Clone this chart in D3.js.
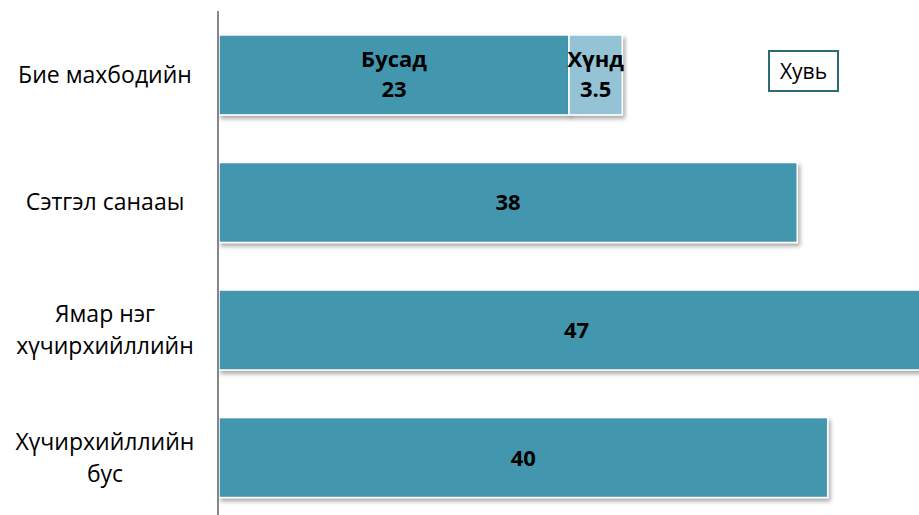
<!DOCTYPE html>
<html>
<head>
<meta charset="utf-8">
<script src="https://cdn.jsdelivr.net/npm/d3@7"></script>
<style>
  body { margin: 0; background: #fff; }
  svg { display: block; font-family: "Open Sans", "Noto Sans", sans-serif; }
</style>
</head>
<body>
<svg id="chart" width="919" height="515"></svg>
<script>
// categories, each one as label lines
var categories = ["Бие махбодийн", "Сэтгэл санааы", "Ямар нэг хүчирхийллийн", "Хүчирхийллийн бус"];
var categoryLines = [["Бие махбодийн"], ["Сэтгэл санааы"], ["Ямар нэг", "хүчирхийллийн"], ["Хүчирхийллийн", "бус"]];

// series
var seriesNames = ["Бусад", "Хүнд"];
var busad = [23, 38, 47, 40];
var khund = [3.5, 0, 0, 0];
var legendLabel = "Хувь";

var colors = ["#4397ae", "#93c3d5"];

var width = 919, height = 515;
var svg = d3.select("#chart");

//==================== shadow filter ====================
var defs = svg.append("defs");
var f = defs.append("filter").attr("id", "shadow")
  .attr("x", "-5%").attr("y", "-20%").attr("width", "115%").attr("height", "150%");
f.append("feDropShadow")
  .attr("dx", 2).attr("dy", 3).attr("stdDeviation", 2)
  .attr("flood-color", "#000").attr("flood-opacity", 0.35);

//==================== scales ====================
var x = d3.scaleLinear().domain([0, 46]).range([219, 919]);
var y = d3.scaleBand().domain(categories)
  .range([11.25, 521.25]).paddingInner(0.373).paddingOuter(0.186);

var rows = categories.map(function(c, i) {
  return { cat: c, "Бусад": busad[i], "Хүнд": khund[i] };
});
var stacked = d3.stack().keys(seriesNames)(rows);

//==================== bars ====================
var layers = svg.append("g").selectAll("g")
  .data(stacked)
  .enter().append("g")
  .attr("fill", function(d, i) { return colors[i]; });

layers.selectAll("rect")
  .data(function(d) { return d.filter(function(p) { return p[1] - p[0] > 0; }); })
  .enter().append("rect")
  .attr("x", function(d) { return x(d[0]); })
  .attr("y", function(d) { return y(d.data.cat); })
  .attr("width", function(d) { return x(d[1]) - x(d[0]); })
  .attr("height", y.bandwidth())
  .attr("stroke", "#fff")
  .attr("stroke-width", 1.5)
  .attr("filter", "url(#shadow)");

//==================== value labels ====================
stacked.forEach(function(layer, si) {
  layer.forEach(function(p, ci) {
    var v = p[1] - p[0];
    if (v <= 0) return;
    var cx = (x(p[0]) + x(p[1])) / 2;
    var cy = y(p.data.cat) + y.bandwidth() / 2;
    var multi = khund[ci] > 0;
    var t = svg.append("text")
      .attr("x", cx)
      .attr("text-anchor", "middle")
      .attr("font-weight", "bold")
      .attr("font-size", 22)
      .attr("fill", "#000");
    if (multi) {
      t.append("tspan").attr("x", cx).attr("y", cy - 8).text(seriesNames[si]);
      t.append("tspan").attr("x", cx).attr("y", cy + 22).text(v);
    } else {
      t.attr("y", cy + 8).text(v);
    }
  });
});

//==================== axis line ====================
svg.append("line")
  .attr("x1", 218).attr("x2", 218)
  .attr("y1", 11).attr("y2", height)
  .attr("stroke", "#868686").attr("stroke-width", 2);

//==================== category labels ====================
categoryLines.forEach(function(lines, i) {
  var cy = y(categories[i]) + y.bandwidth() / 2;
  var lh = 32;
  var t = svg.append("text")
    .attr("text-anchor", "middle")
    .attr("font-size", 23)
    .attr("fill", "#000");
  lines.forEach(function(s, k) {
    t.append("tspan")
      .attr("x", 105)
      .attr("y", cy + 8 + (k - (lines.length - 1) / 2) * lh)
      .text(s);
  });
});

//==================== legend ====================
svg.append("rect")
  .attr("x", 769).attr("y", 51).attr("width", 69).attr("height", 40)
  .attr("fill", "#fff").attr("stroke", "#2e6b77").attr("stroke-width", 2);
svg.append("text")
  .attr("x", 803.5).attr("y", 79)
  .attr("text-anchor", "middle")
  .attr("font-size", 21)
  .attr("fill", "#000")
  .text(legendLabel);
</script>
</body>
</html>
